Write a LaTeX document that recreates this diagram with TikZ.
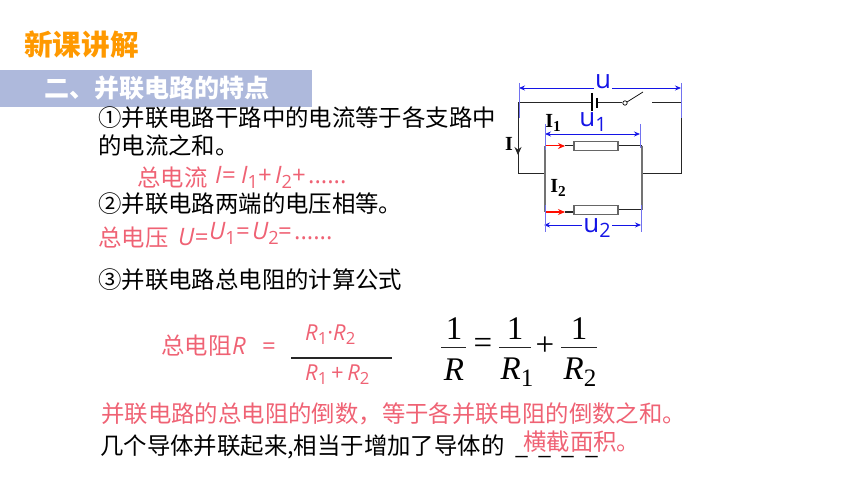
\documentclass[tikz,border=0pt]{standalone}
\usepackage{amsmath,amssymb}
\usepackage{xcolor}
\usepackage{fontspec}
\usetikzlibrary{arrows.meta}
\setmainfont{Noto Sans CJK SC}
\newfontfamily\latinfont{Open Sans}
\newfontfamily\timesfont{Liberation Serif}
\definecolor{titleorange}{HTML}{FF9900}
\definecolor{bandblue}{HTML}{AEB9DC}
\definecolor{notered}{HTML}{EF6274}
\definecolor{dimblue}{HTML}{1414E6}
\newcommand{\lowdigit}[1]{\raisebox{-0.2em}{\scalebox{0.76}{\upshape #1}}}
\newcommand{\widecomma}{\symbol{"FF0C}}
\tikzset{
  bodytext/.style={anchor=base west, inner sep=0pt, font=\fontsize{23.4}{23.4}\selectfont},
  redtext/.style={bodytext, text=notered},
  redsym/.style={anchor=base west, inner sep=0pt, text=notered, font=\fontsize{24}{24}\selectfont\latinfont},
  redsmall/.style={anchor=base west, inner sep=0pt, text=notered, font=\fontsize{22}{22}\selectfont\latinfont},
  wirepath/.style={line width=1pt, black!85},
  sidepath/.style={line width=1.4pt, black!55},
  dimpath/.style={{Stealth[length=6pt,width=5pt]}-{Stealth[length=6pt,width=5pt]}, line width=0.8pt, dimblue},
  dimtick/.style={line width=1pt, dimblue!60!white},
  dimlabel/.style={inner sep=1pt, fill=white, text=dimblue, font=\fontsize{26}{26}\selectfont\latinfont},
  currlabel/.style={inner sep=0pt, font=\fontsize{20}{20}\selectfont\timesfont\bfseries},
  currarrow/.style={-{Stealth[length=7pt,width=6pt]}, line width=1pt, red!90!orange},
  resbox/.style={draw=black!60, line width=1.3pt, fill=white, minimum width=44pt, minimum height=8.5pt, inner sep=0pt},
  fracnum/.style={inner sep=0pt, font=\fontsize{33}{33}\selectfont\timesfont},
  fracbar/.style={line width=0.8pt, black!85},
}
\begin{document}
\begin{tikzpicture}[x=1pt, y=-1pt]
    \useasboundingbox (0,0) rectangle (860,484);

    % Heading
    \node[anchor=base west, inner sep=0pt, text=titleorange, font=\fontsize{28.6}{28.6}\selectfont\bfseries] (title) at (24,56) {新课讲解};
    \fill[bandblue] (0,70) rectangle (312,107);
    \node[anchor=base west, inner sep=0pt, text=white, font=\fontsize{25}{25}\selectfont\bfseries] (band) at (44,98) {二、并联电路的特点};

    % Text lines
    \node[bodytext] (lineA) at (98,127) {①并联电路干路中的电流等于各支路中};
    \node[bodytext] (lineB) at (98,155) {的电流之和。};
    \node[redtext] (sumI) at (137,187) {总电流};
    \node[redsym] (iA) at (215,184) {\itshape I=};
    \node[redsym] (iB) at (241,184) {\itshape I\lowdigit{1}};
    \node[redsym] (iC) at (258,184) {+};
    \node[redsym] (iD) at (275,184) {\itshape I\lowdigit{2}};
    \node[redsym] (iE) at (292,184) {+};
    \node[redsym] (iF) at (308,184) {......};
    \node[bodytext] (lineC) at (98,212) {②并联电路两端的电压相等。};
    \node[redtext] (sumU) at (98,246) {总电压};
    \node[redsym] (uA) at (178,245) {\itshape U=};
    \node[redsym] (uB) at (209,240) {\itshape U\lowdigit{1}};
    \node[redsym] (uC) at (236,240) {=};
    \node[redsym] (uD) at (252,240) {\itshape U\lowdigit{2}};
    \node[redsym] (uE) at (278,240) {=};
    \node[redsym] (uF) at (294,240) {......};
    \node[bodytext] (lineD) at (98,288) {③并联电路总电阻的计算公式};

    % Total resistance
    \node[redtext] (sumR) at (161,354) {总电阻};
    \node[redsym] (rA) at (232,354) {\itshape R};
    \node[redsym] (rB) at (262,354) {=};
    \node[redsmall] (rC) at (305,340) {\itshape R\lowdigit{1}\upshape ·\itshape R\lowdigit{2}};
    \node[redsmall] (rD) at (305,380) {\itshape R\lowdigit{1}\upshape\,+\,\itshape R\lowdigit{2}};
    \coordinate (rbarL) at (291,358);
    \coordinate (rbarR) at (392,358);
    \draw[line width=1.9pt, black!85] (rbarL) -- (rbarR);

    % Reciprocal formula
    \node[fracnum] (oneA) at (454,329) {1};
    \node[fracnum, font=\fontsize{33}{33}\selectfont\timesfont\itshape] (resA) at (454,370) {R};
    \draw[fracbar] (441,347) -- (466,347);
    \node[fracnum] (eqA) at (483,346) {=};
    \node[fracnum] (oneB) at (515,329) {1};
    \node[fracnum] (resB) at (517,372) {\itshape R\lowdigit{1}};
    \draw[fracbar] (499,347) -- (531,347);
    \node[fracnum] (plusA) at (545,346) {+};
    \node[fracnum] (oneC) at (579,329) {1};
    \node[fracnum] (resC) at (580,372) {\itshape R\lowdigit{2}};
    \draw[fracbar] (561,347) -- (597,347);

    % Bottom lines
    \node[redtext] (lineE) at (101,422) {并联电路的总电阻的倒数\widecomma 等于各并联电阻的倒数之和。};
    \node[bodytext] (lineF) at (100,454) {几个导体并联起来,相当于增加了导体的};
    \node[bodytext] (gaps) at (515,454) {\_\hspace{10.2pt}\_\hspace{10.2pt}\_\hspace{10.2pt}\_};
    \node[redtext] (lineG) at (523,450) {横截面积。};

    % Circuit corners
    \coordinate (tl) at (518,103);
    \coordinate (tr) at (681,103);
    \coordinate (ml) at (518,174);
    \coordinate (mr) at (681,174);
    \coordinate (jl) at (545,174);
    \coordinate (jr) at (642,174);
    \coordinate (al) at (545,146);
    \coordinate (ar) at (642,146);
    \coordinate (bl) at (545,212);
    \coordinate (br) at (642,210);
    \coordinate (batA) at (592,103);
    \coordinate (batB) at (597,103);
    \coordinate (swA) at (625,103);
    \coordinate (swB) at (652,103);
    \coordinate (swC) at (643,92);

    % Resistors
    \node[resbox] (resTop) at (596,146) {};
    \node[resbox] (resBot) at (596,210) {};

    % Wires
    \draw[wirepath] (batA) -- (tl) -- (ml) -- (jl);
    \draw[wirepath] (batB) -- (622,103);
    \draw[wirepath] (swB) -- (tr) -- (mr) -- (jr);
    \draw[sidepath] (al) -- (bl);
    \draw[sidepath] (ar) -- (br);
    \draw[wirepath] (565,146) -- (resTop) (resTop) -- (ar);
    \draw[wirepath] (565,212) -- (resBot.west |- 0,212) (resBot) -- (br);
    \draw[line width=1.2pt] (592,93) -- (592,113);
    \draw[line width=1.2pt] (597,98) -- (597,108);
    \draw[line width=0.7pt] (swA) circle (2.2pt);
    \draw[line width=0.7pt] (627,102) -- (swC);

    % Current arrows
    \draw[currarrow] (al) -- (565,146);
    \draw[currarrow] (bl) -- (565,212);
    \draw[-{Stealth[length=8pt,width=7pt]}, wirepath] (518,140) -- (518,155);
    \node[currlabel] (currI) at (509,144) {I};
    \node[currlabel] (currA) at (553,123) {I\lowdigit{1}};
    \node[currlabel] (currB) at (558,188) {I\lowdigit{2}};

    % Dimension lines
    \coordinate (ua) at (519,88);
    \coordinate (ub) at (681,88);
    \coordinate (va) at (545,134);
    \coordinate (vb) at (640,134);
    \coordinate (wa) at (544,225);
    \coordinate (wb) at (641,225);
    \draw[dimpath] (ua) -- (ub);
    \draw[dimpath] (va) -- (vb);
    \draw[dimpath] (wa) -- (wb);
    \draw[dimtick] (519,83) -- (519,118);
    \draw[dimtick] (681,83) -- (681,118);
    \draw[dimtick] (545,124) -- (545,150);
    \draw[dimtick] (640,124) -- (640,148);
    \draw[dimtick] (545,205) -- (545,232);
    \draw[dimtick] (641,205) -- (641,232);
    \node[dimlabel] (volt) at (603,82) {u};
    \node[dimlabel] (voltA) at (593,122) {u\lowdigit{1}};
    \node[dimlabel] (voltB) at (597,228) {u\lowdigit{2}};
\end{tikzpicture}
\end{document}
